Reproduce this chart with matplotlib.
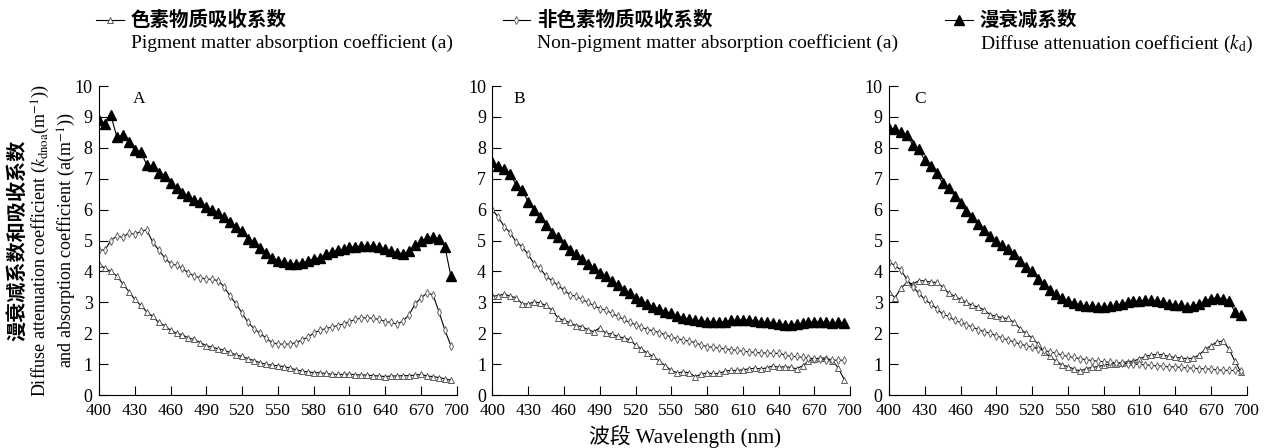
import numpy as np
import matplotlib
matplotlib.use('Agg')
import matplotlib.pyplot as plt
from matplotlib.lines import Line2D

plt.rcParams['font.family'] = ['Liberation Serif', 'Noto Sans CJK SC']
plt.rcParams['mathtext.fontset'] = 'stix'

wl = np.arange(400, 700, 5)

# panel A
kd_a = [8.9, 8.78, 9.05, 8.35, 8.4, 8.2, 7.93, 7.88, 7.45, 7.4, 7.2, 7.1, 6.85, 6.7, 6.55, 6.45, 6.3, 6.25, 6.1, 6.0,
        5.9, 5.75, 5.6, 5.45, 5.3, 5.05, 4.95, 4.75, 4.6, 4.45, 4.35, 4.3, 4.25, 4.25, 4.28, 4.33, 4.4, 4.45, 4.55, 4.62,
        4.68, 4.72, 4.78, 4.8, 4.82, 4.82, 4.82, 4.78, 4.72, 4.65, 4.6, 4.58, 4.65, 4.85, 4.98, 5.08, 5.12, 5.05, 4.8, 3.85]
nap_a = [4.69, 4.7, 5.0, 5.15, 5.1, 5.25, 5.2, 5.3, 5.35, 4.95, 4.7, 4.45, 4.25, 4.2, 4.1, 3.95, 3.85, 3.8, 3.75, 3.75,
         3.7, 3.5, 3.2, 2.95, 2.65, 2.35, 2.15, 2.0, 1.85, 1.7, 1.65, 1.65, 1.65, 1.7, 1.78, 1.88, 2.0, 2.1, 2.15, 2.2,
         2.25, 2.3, 2.38, 2.45, 2.5, 2.5, 2.48, 2.45, 2.38, 2.35, 2.3, 2.4, 2.6, 2.95, 3.15, 3.3, 3.25, 2.7, 2.1, 1.6]
pig_a = [4.25, 4.1, 4.0, 3.85, 3.6, 3.35, 3.1, 2.9, 2.7, 2.55, 2.35, 2.25, 2.1, 2.0, 1.95, 1.85, 1.8, 1.7, 1.6, 1.55,
         1.5, 1.45, 1.38, 1.3, 1.25, 1.18, 1.12, 1.05, 1.0, 0.97, 0.95, 0.92, 0.88, 0.82, 0.78, 0.75, 0.73, 0.72, 0.7, 0.68,
         0.67, 0.67, 0.68, 0.66, 0.65, 0.65, 0.63, 0.62, 0.6, 0.62, 0.62, 0.63, 0.63, 0.65, 0.67, 0.62, 0.6, 0.57, 0.53, 0.48]

# panel B
kd_b = [7.55, 7.4, 7.3, 7.15, 6.8, 6.65, 6.25, 6.0, 5.75, 5.5, 5.25, 5.1, 4.9, 4.7, 4.55, 4.4, 4.25, 4.1, 3.95, 3.85,
        3.7, 3.55, 3.4, 3.3, 3.15, 3.05, 2.95, 2.85, 2.8, 2.7, 2.65, 2.55, 2.5, 2.45, 2.42, 2.4, 2.38, 2.37, 2.37, 2.38,
        2.42, 2.43, 2.44, 2.43, 2.4, 2.38, 2.36, 2.33, 2.31, 2.28, 2.27, 2.3, 2.33, 2.36, 2.38, 2.37, 2.35, 2.34, 2.35, 2.33]
nap_b = [6.0, 5.75, 5.45, 5.25, 4.95, 4.8, 4.55, 4.25, 4.1, 3.85, 3.7, 3.55, 3.4, 3.25, 3.2, 3.1, 3.0, 2.9, 2.8, 2.75,
         2.65, 2.55, 2.45, 2.35, 2.28, 2.2, 2.12, 2.08, 2.02, 1.95, 1.88, 1.82, 1.78, 1.75, 1.7, 1.62, 1.57, 1.55, 1.52, 1.5,
         1.47, 1.45, 1.42, 1.4, 1.38, 1.37, 1.36, 1.35, 1.35, 1.3, 1.25, 1.25, 1.22, 1.2, 1.18, 1.17, 1.15, 1.13, 1.13, 1.13]
pig_b = [3.2, 3.22, 3.27, 3.2, 3.15, 2.95, 2.95, 3.02, 2.98, 2.9, 2.75, 2.5, 2.42, 2.35, 2.25, 2.22, 2.12, 2.05, 2.18, 2.0,
         1.98, 1.9, 1.85, 1.8, 1.62, 1.5, 1.35, 1.25, 1.1, 0.95, 0.8, 0.72, 0.75, 0.72, 0.6, 0.68, 0.72, 0.7, 0.7, 0.78,
         0.8, 0.8, 0.82, 0.85, 0.87, 0.85, 0.88, 0.95, 0.9, 0.92, 0.9, 0.85, 0.95, 1.1, 1.18, 1.2, 1.2, 1.12, 0.88, 0.5]

# panel C
kd_c = [8.65, 8.6, 8.5, 8.4, 8.1, 7.95, 7.6, 7.4, 7.2, 6.85, 6.7, 6.45, 6.2, 5.95, 5.75, 5.55, 5.35, 5.15, 5.0, 4.85,
        4.72, 4.55, 4.35, 4.15, 4.0, 3.75, 3.6, 3.4, 3.28, 3.15, 3.05, 2.98, 2.92, 2.88, 2.87, 2.86, 2.85, 2.87, 2.9, 2.95,
        3.0, 3.03, 3.05, 3.07, 3.07, 3.05, 3.0, 2.95, 2.92, 2.9, 2.85, 2.88, 2.95, 3.05, 3.12, 3.15, 3.12, 3.05, 2.7, 2.58]
nap_c = [4.3, 4.2, 4.05, 3.75, 3.5, 3.3, 3.1, 2.95, 2.8, 2.62, 2.55, 2.42, 2.35, 2.28, 2.2, 2.12, 2.05, 2.0, 1.92, 1.85,
         1.78, 1.72, 1.65, 1.6, 1.55, 1.5, 1.45, 1.4, 1.35, 1.3, 1.25, 1.22, 1.18, 1.15, 1.12, 1.1, 1.08, 1.06, 1.05, 1.03,
         1.02, 1.0, 1.0, 0.98, 0.96, 0.95, 0.93, 0.92, 0.91, 0.9, 0.88, 0.87, 0.86, 0.85, 0.84, 0.82, 0.8, 0.8, 0.8, 0.78]
pig_c = [3.35, 3.15, 3.45, 3.65, 3.6, 3.7, 3.7, 3.65, 3.65, 3.5, 3.3, 3.2, 3.1, 3.0, 2.9, 2.85, 2.75, 2.6, 2.55, 2.5,
         2.48, 2.35, 2.15, 2.0, 1.85, 1.65, 1.4, 1.25, 1.1, 0.98, 0.92, 0.85, 0.78, 0.85, 0.9, 0.92, 0.97, 1.0, 1.02, 1.05,
         1.08, 1.1, 1.18, 1.25, 1.3, 1.32, 1.3, 1.25, 1.22, 1.2, 1.18, 1.2, 1.3, 1.48, 1.6, 1.72, 1.75, 1.5, 1.1, 0.75]

panels = ['A', 'B', 'C']
series = [(kd_a, nap_a, pig_a), (kd_b, nap_b, pig_b), (kd_c, nap_c, pig_c)]
xticks = [400, 430, 460, 490, 520, 550, 580, 610, 640, 670, 700]
lefts = [0.078, 0.388, 0.7005]
letter_x = [0.112, 0.075, 0.087]

kd_style = dict(color='black', lw=0.8, marker='^', ms=6.5, mfc='black', mec='black')
nap_style = dict(color='black', lw=0.8, marker='d', ms=4, mfc='white', mec='#666666', mew=0.7)
pig_style = dict(color='black', lw=0.8, marker='^', ms=4.5, mfc='white', mec='#444444', mew=0.6)

fig = plt.figure(figsize=(12.69, 4.48), dpi=100)
for i in range(3):
    ax = fig.add_axes([lefts[i], 0.118, 0.282, 0.690])
    kd, nap, pig = series[i]
    ax.plot(wl, pig, **pig_style)
    ax.plot(wl, nap, **nap_style)
    ax.plot(wl, kd, **kd_style)
    ax.set_xlim(400, 700)
    ax.set_ylim(0, 10)
    ax.set_xticks(xticks)
    ax.set_yticks(range(0, 11))
    ax.spines['top'].set_visible(False)
    ax.spines['right'].set_visible(False)
    ax.tick_params(direction='in', length=6.5, width=0.8)
    ax.tick_params(axis='x', labelsize=12.5, pad=6)
    ax.tick_params(axis='y', labelsize=13, pad=4.5)
    ax.text(letter_x[i], 0.958, panels[i], transform=ax.transAxes, fontsize=12.5, ha='center', va='center')

# y label (three lines)
fig.text(0.013, 0.464, '漫衰减系数和吸收系数', rotation=90, ha='center', va='center',
         family=['Noto Sans CJK SC'], fontsize=14.5, fontweight='bold')
fig.text(0.032, 0.464, r'Diffuse attenuation coefficient ($k_{\mathrm{dnoa}}$(m$^{-1}$))', rotation=90,
         ha='center', va='center', fontsize=13)
fig.text(0.0525, 0.464, r'and absorption coefficient (a(m$^{-1}$))', rotation=90,
         ha='center', va='center', fontsize=13)

# x label
fig.text(0.54, 0.025, '波段 Wavelength (nm)', ha='center', va='center', fontsize=15)

# legend at top
leg_x = [0.076, 0.396, 0.745]
leg_cn = ['色素物质吸收系数', '非色素物质吸收系数', '漫衰减系数']
leg_en = ['Pigment matter absorption coefficient (a)', 'Non-pigment matter absorption coefficient (a)',
          r'Diffuse attenuation coefficient ($k_{\mathrm{d}}$)']
leg_style = [pig_style, nap_style, kd_style]
for j in range(3):
    fig.add_artist(Line2D([leg_x[j], leg_x[j] + 0.022], [0.955, 0.955], transform=fig.transFigure,
                          color='black', lw=0.8))
    fig.add_artist(Line2D([leg_x[j] + 0.011], [0.955], transform=fig.transFigure,
                          **{k: v for k, v in leg_style[j].items() if k not in ('color', 'lw')}, ls='none'))
    fig.text(leg_x[j] + 0.027, 0.955, leg_cn[j], ha='left', va='center', family=['Noto Sans CJK SC'],
             fontsize=14, fontweight='bold')
    fig.text(leg_x[j] + 0.027, 0.903, leg_en[j], ha='left', va='center', fontsize=14)

fig.savefig('out.png', dpi=100)
